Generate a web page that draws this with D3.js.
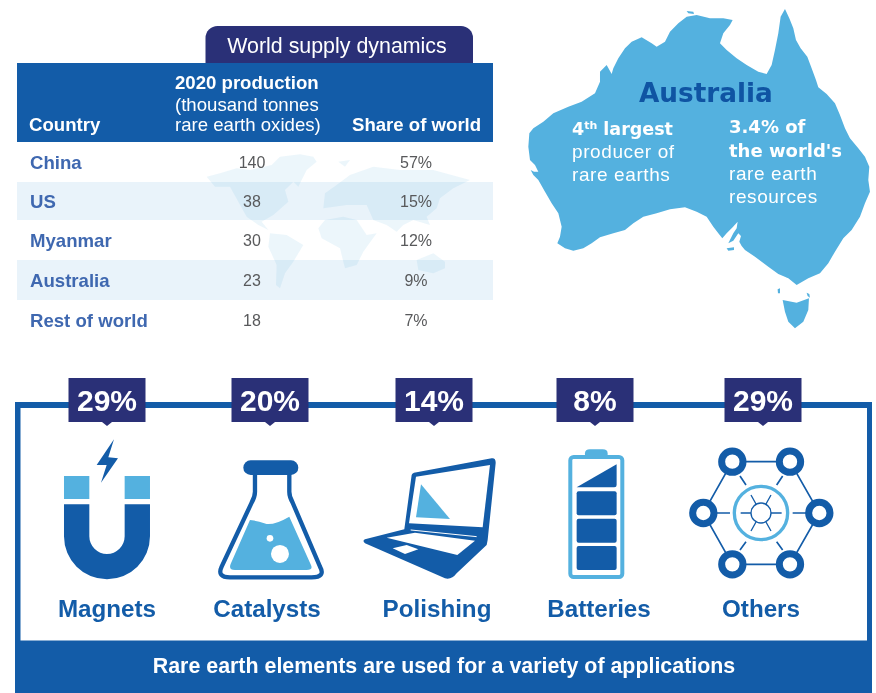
<!DOCTYPE html>
<html>
<head>
<meta charset="utf-8">
<title>Rare earths</title>
<script src="https://cdn.jsdelivr.net/npm/d3@7"></script>
<style>
  html, body { margin: 0; padding: 0; background: #fff; overflow: hidden; }
  svg { display: block; filter: blur(0.4px); }
  text { font-family: 'Liberation Sans', Arial, sans-serif; }
</style>
</head>
<body>
<div id="chart"></div>
<script>
const countries = ['China', 'US', 'Myanmar', 'Australia', 'Rest of world']
const production = [140, 38, 30, 23, 18]
const shares = ['57%', '15%', '12%', '9%', '7%']

const uses = ['Magnets', 'Catalysts', 'Polishing', 'Batteries', 'Others']
const useShares = ['29%', '20%', '14%', '8%', '29%']

const blue = '#135ca8'
const navy = '#2a3077'
const sky = '#54b1df'

const width = 876
const height = 693

const svg = d3
  .select('#chart')
  .append('svg')
  .attr('width', width)
  .attr('height', height)

const line = d3.line().curve(d3.curveLinear)
const closed = pts => line(pts) + 'Z'

/* ---------- table ---------- */

// rows in the original are not quite even
const yRowTop = d3.scaleOrdinal().domain(countries).range([142, 182, 220, 260, 300])
const yRowBottom = d3.scaleOrdinal().domain(countries).range([182, 220, 260, 300, 340])
const xProduction = 252
const xShare = 416

const table = svg.append('g').attr('class', 'table')

table
  .append('path')
  .attr('d', 'M205.5,63V38a12,12 0 0 1 12,-12H461a12,12 0 0 1 12,12V63Z')
  .attr('fill', navy)
table
  .append('rect')
  .attr('x', 17)
  .attr('y', 63)
  .attr('width', 476)
  .attr('height', 79)
  .attr('fill', blue)

table
  .selectAll('rect.stripe')
  .data(countries.filter((d, i) => i % 2 === 1))
  .enter()
  .append('rect')
  .attr('class', 'stripe')
  .attr('x', 17)
  .attr('y', d => yRowTop(d))
  .attr('width', 476)
  .attr('height', d => yRowBottom(d) - yRowTop(d))
  .attr('fill', '#e9f3fa')

// faint world map behind the numbers
const worldBlobs = [
  [[20,95],[60,85],[110,70],[150,75],[215,60],[240,35],[300,28],[340,35],[350,50],[320,75],[295,125],[280,110],[255,135],[265,170],[220,210],[185,230],[205,255],[175,240],[140,215],[115,170],[90,125],[45,125]],
  [[210,265],[260,270],[310,300],[280,350],[255,385],[240,430],[228,420],[230,360],[205,305]],
  [[375,225],[430,215],[470,225],[500,270],[530,265],[490,320],[470,360],[435,370],[420,310],[365,280],[355,250]],
  [[370,190],[375,145],[410,120],[450,90],[520,65],[600,75],[700,75],[810,105],[760,130],[720,160],[710,190],[680,215],[690,240],[640,225],[610,240],[590,260],[560,240],[520,225],[500,180],[440,180]],
  [[650,345],[700,325],[735,350],[735,370],[700,385],[655,375]],
  [[415,50],[450,45],[435,65]]
]
table
  .append('g')
  .attr('transform', 'translate(200,145) scale(0.3333)')
  .style('filter', 'blur(2px)')
  .selectAll('path')
  .data(worldBlobs)
  .enter()
  .append('path')
  .attr('d', closed)
  .attr('fill', sky)
  .attr('fill-opacity', 0.11)

table
  .append('text')
  .text('World supply dynamics')
  .attr('x', 337)
  .attr('y', 53)
  .attr('text-anchor', 'middle')
  .attr('font-size', 21.4)
  .attr('fill', '#fff')

const headers = [
  { text: 'Country', x: 29, y: 131, weight: 'bold' },
  { text: '2020 production', x: 175, y: 89, weight: 'bold' },
  { text: '(thousand tonnes', x: 175, y: 111, weight: 'normal' },
  { text: 'rare earth oxides)', x: 175, y: 131, weight: 'normal' },
  { text: 'Share of world', x: 352, y: 131, weight: 'bold' }
]
table
  .selectAll('text.header')
  .data(headers)
  .enter()
  .append('text')
  .attr('class', 'header')
  .text(d => d.text)
  .attr('x', d => d.x)
  .attr('y', d => d.y)
  .attr('font-size', 18.6)
  .attr('font-weight', d => d.weight)
  .attr('fill', '#fff')

const rowBaseline = d => (yRowTop(d) + yRowBottom(d)) / 2 + 5.5

table
  .selectAll('text.country')
  .data(countries)
  .enter()
  .append('text')
  .attr('class', 'country')
  .text(d => d)
  .attr('x', 30)
  .attr('y', d => rowBaseline(d) + 1)
  .attr('font-size', 18.6)
  .attr('font-weight', 'bold')
  .attr('fill', '#3f68b0')

table
  .selectAll('text.production')
  .data(countries)
  .enter()
  .append('text')
  .attr('class', 'production')
  .text((d, i) => production[i])
  .attr('x', xProduction)
  .attr('y', rowBaseline)
  .attr('text-anchor', 'middle')
  .attr('font-size', 16)
  .attr('fill', '#58595b')

table
  .selectAll('text.share')
  .data(countries)
  .enter()
  .append('text')
  .attr('class', 'share')
  .text((d, i) => shares[i])
  .attr('x', xShare)
  .attr('y', rowBaseline)
  .attr('text-anchor', 'middle')
  .attr('font-size', 16)
  .attr('fill', '#58595b')

/* ---------- Australia ---------- */

const mainland = [
  [825,27],[838,55],[850,85],[858,120],[872,145],[892,170],[905,205],[918,240],[925,262],[950,282],[975,310],[990,345],[1005,385],[1020,415],[1045,445],[1065,470],[1078,500],[1075,540],[1080,575],[1065,610],[1050,650],[1025,690],[1000,715],[975,755],[955,790],[930,820],[895,835],[860,855],[835,835],[805,822],[775,800],[735,770],[705,750],[695,738],[688,725],[693,708],[685,700],[670,722],[655,730],[670,700],[680,685],[683,665],[668,682],[650,700],[637,715],[625,700],[610,680],[590,650],[560,635],[525,622],[480,628],[440,640],[400,650],[370,670],[345,690],[310,700],[270,712],[245,730],[220,745],[190,752],[165,745],[142,730],[150,710],[155,680],[145,640],[125,610],[105,575],[85,540],[70,525],[62,510],[72,515],[85,515],[75,495],[60,480],[55,440],[58,400],[70,385],[100,365],[130,340],[175,320],[215,305],[255,280],[270,245],[270,215],[290,195],[305,222],[310,205],[325,175],[345,145],[365,125],[395,112],[425,130],[440,140],[465,125],[480,95],[505,70],[530,50],[560,45],[600,55],[640,55],[668,60],[660,75],[640,100],[630,130],[650,150],[680,175],[710,195],[745,215],[770,222],[785,195],[795,150],[805,100],[812,50]
]
const tasmania = [[818,900],[860,908],[897,895],[895,930],[880,965],[855,985],[835,965],[825,935]]
const islands = [
  [[530,33],[550,35],[552,42],[535,40]],
  [[650,745],[672,742],[672,750],[655,752]],
  [[803,868],[810,865],[810,880],[804,880]],
  [[890,878],[898,882],[900,893],[893,888]],
  [[828,822],[838,820],[840,832],[830,832]]
]

svg
  .append('g')
  .attr('class', 'map')
  .attr('transform', 'translate(510,0) scale(0.3333)')
  .selectAll('path')
  .data([mainland, tasmania].concat(islands))
  .enter()
  .append('path')
  .attr('d', closed)
  .attr('fill', sky)

const heavy = "'DejaVu Sans', sans-serif"
const mapText = svg.append('g').attr('class', 'map-text')

mapText
  .append('text')
  .text('Australia')
  .attr('x', 639)
  .attr('y', 102)
  .style('font-family', heavy)
  .attr('font-weight', 'bold')
  .attr('font-size', 26.3)
  .attr('fill', '#0f54a3')

const fourth = mapText
  .append('text')
  .attr('x', 572)
  .attr('y', 135)
  .style('font-family', heavy)
  .attr('font-weight', 'bold')
  .attr('font-size', 17.5)
  .attr('fill', '#fff')
fourth.append('tspan').text('4')
fourth
  .append('tspan')
  .text('th')
  .attr('font-size', 11)
  .attr('dy', -6)
fourth
  .append('tspan')
  .text(' largest')
  .attr('dy', 6)

const mapLines = [
  { text: 'producer of', x: 572, y: 158, bold: false },
  { text: 'rare earths', x: 572, y: 181, bold: false },
  { text: '3.4% of', x: 729, y: 133, bold: true },
  { text: "the world's", x: 729, y: 157, bold: true },
  { text: 'rare earth', x: 729, y: 180, bold: false },
  { text: 'resources', x: 729, y: 203, bold: false }
]
mapText
  .selectAll('text.line')
  .data(mapLines)
  .enter()
  .append('text')
  .attr('class', 'line')
  .text(d => d.text)
  .attr('x', d => d.x)
  .attr('y', d => d.y)
  .style('font-family', d => (d.bold ? heavy : null))
  .attr('font-weight', d => (d.bold ? 'bold' : 'normal'))
  .attr('font-size', d => (d.bold ? 18 : 19))
  .attr('letter-spacing', d => (d.bold ? 0 : 0.6))
  .attr('fill', '#fff')

/* ---------- applications box ---------- */

const box = svg.append('g').attr('class', 'box')
box
  .append('path')
  .attr('fill', blue)
  .attr('fill-rule', 'evenodd')
  .attr('d', 'M15,402H872V693H15Z M20.5,408V640.5H867V408Z')

box
  .append('text')
  .text('Rare earth elements are used for a variety of applications')
  .attr('x', 444)
  .attr('y', 673)
  .attr('text-anchor', 'middle')
  .attr('font-size', 21.4)
  .attr('font-weight', 'bold')
  .attr('fill', '#fff')

const xBadge = d3.scaleOrdinal().domain(uses).range([107, 270, 434, 595, 763])
const xLabel = d3.scaleOrdinal().domain(uses).range([107, 267, 437, 599, 761])

const badges = box
  .selectAll('g.badge')
  .data(uses)
  .enter()
  .append('g')
  .attr('class', 'badge')
  .attr('transform', d => `translate(${xBadge(d)},0)`)
badges
  .append('path')
  .attr('d', 'M-38.5,378H38.5V422H5L0,426L-5,422H-38.5Z')
  .attr('fill', navy)
badges
  .append('text')
  .text((d, i) => useShares[i])
  .attr('y', 411)
  .attr('text-anchor', 'middle')
  .attr('font-size', 30)
  .attr('font-weight', 'bold')
  .attr('fill', '#fff')

box
  .selectAll('text.use')
  .data(uses)
  .enter()
  .append('text')
  .attr('class', 'use')
  .text(d => d)
  .attr('x', d => xLabel(d))
  .attr('y', 617)
  .attr('text-anchor', 'middle')
  .attr('font-size', 24.2)
  .attr('font-weight', 'bold')
  .attr('fill', blue)

/* ---------- icons, traced at 3x and scaled down ---------- */

function icon(x) {
  return svg.append('g').attr('transform', `translate(${x},370) scale(0.3333)`)
}
function shape(g, d, fill) {
  return g.append('path').attr('d', d).attr('fill', fill)
}
function stroke(g, d, color, w) {
  return g
    .append('path')
    .attr('d', d)
    .attr('fill', 'none')
    .attr('stroke', color)
    .attr('stroke-width', w)
}

// magnet
const magnet = icon(0)
shape(magnet, 'M192,318H268V387H192Z M374,318H450V387H374Z', sky)
shape(magnet, 'M192,403H268V499A53,53 0 0 0 374,499V403H450V499A129,129 0 0 1 192,499Z', blue)
shape(magnet, 'M342,208L290,285L320,285L303,338L354,265L325,262Z', blue)

// flask
const flask = icon(0)
stroke(flask, 'M765,310V365Q765,380 755,398L665,590Q650,622 690,622H935Q978,622 960,590L878,398Q868,380 868,365V310', blue, 13)
shape(flask, 'M750,450Q775,452 800,462Q825,465 868,440L933,585Q940,600 920,600H705Q685,600 692,582Z', sky)
flask
  .append('rect')
  .attr('x', 730)
  .attr('y', 271)
  .attr('width', 165)
  .attr('height', 44)
  .attr('rx', 22)
  .attr('fill', blue)
flask.append('circle').attr('cx', 810).attr('cy', 505).attr('r', 10).attr('fill', '#fff')
flask.append('circle').attr('cx', 840).attr('cy', 552).attr('r', 27).attr('fill', '#fff')

// laptop
const laptop = icon(340)
shape(laptop, 'M222,308L455,265Q468,263 467,280L443,510L440,525L350,610Q335,630 315,625L75,520Q66,512 75,508L193,478L215,315Q216,310 222,308Z', blue)
shape(laptop, 'M228,320L450,285L428,472L207,460Z', '#fff')
shape(laptop, 'M140,503L225,488L405,512L352,555Z', '#fff')
shape(laptop, 'M158,535L200,525L235,538L195,552Z', '#fff')
stroke(laptop, 'M212,480L410,500', '#fff', 3)
shape(laptop, 'M243,343L330,447L228,442Z', sky)

// battery
const battery = icon(340)
shape(battery, 'M735,262V250Q735,238 750,238H788Q803,238 803,250V262Z', sky)
battery
  .append('rect')
  .attr('x', 691)
  .attr('y', 261)
  .attr('width', 156)
  .attr('height', 360)
  .attr('rx', 10)
  .attr('fill', '#fff')
  .attr('stroke', sky)
  .attr('stroke-width', 12)
battery
  .selectAll('rect.cell')
  .data([364, 446, 528])
  .enter()
  .append('rect')
  .attr('class', 'cell')
  .attr('x', 710)
  .attr('y', d => d)
  .attr('width', 120)
  .attr('height', 72)
  .attr('rx', 6)
  .attr('fill', blue)
shape(battery, 'M710,352L830,283V345Q830,352 823,352Z', blue)

// network
const network = icon(640)
const hub = [[277,275],[450,275],[538,429],[450,583],[277,583],[190,429]]
stroke(network, closed(hub), blue, 5)
stroke(network, 'M190,429H270 M458,429H538 M300,318L318,345 M428,318L410,345 M300,540L318,515 M428,540L410,515', blue, 5)
network
  .selectAll('circle.node')
  .data(hub)
  .enter()
  .append('circle')
  .attr('class', 'node')
  .attr('cx', d => d[0])
  .attr('cy', d => d[1])
  .attr('r', 32)
  .attr('fill', '#fff')
  .attr('stroke', blue)
  .attr('stroke-width', 21)
network
  .append('circle')
  .attr('cx', 363)
  .attr('cy', 429)
  .attr('r', 80)
  .attr('fill', '#fff')
  .attr('stroke', sky)
  .attr('stroke-width', 10)
stroke(network, 'M302,429H333 M393,429H425 M333,375L348,402 M393,375L378,402 M333,483L348,456 M393,483L378,456', blue, 4)
network
  .append('circle')
  .attr('cx', 363)
  .attr('cy', 429)
  .attr('r', 30)
  .attr('fill', 'none')
  .attr('stroke', blue)
  .attr('stroke-width', 4)
</script>
</body>
</html>
